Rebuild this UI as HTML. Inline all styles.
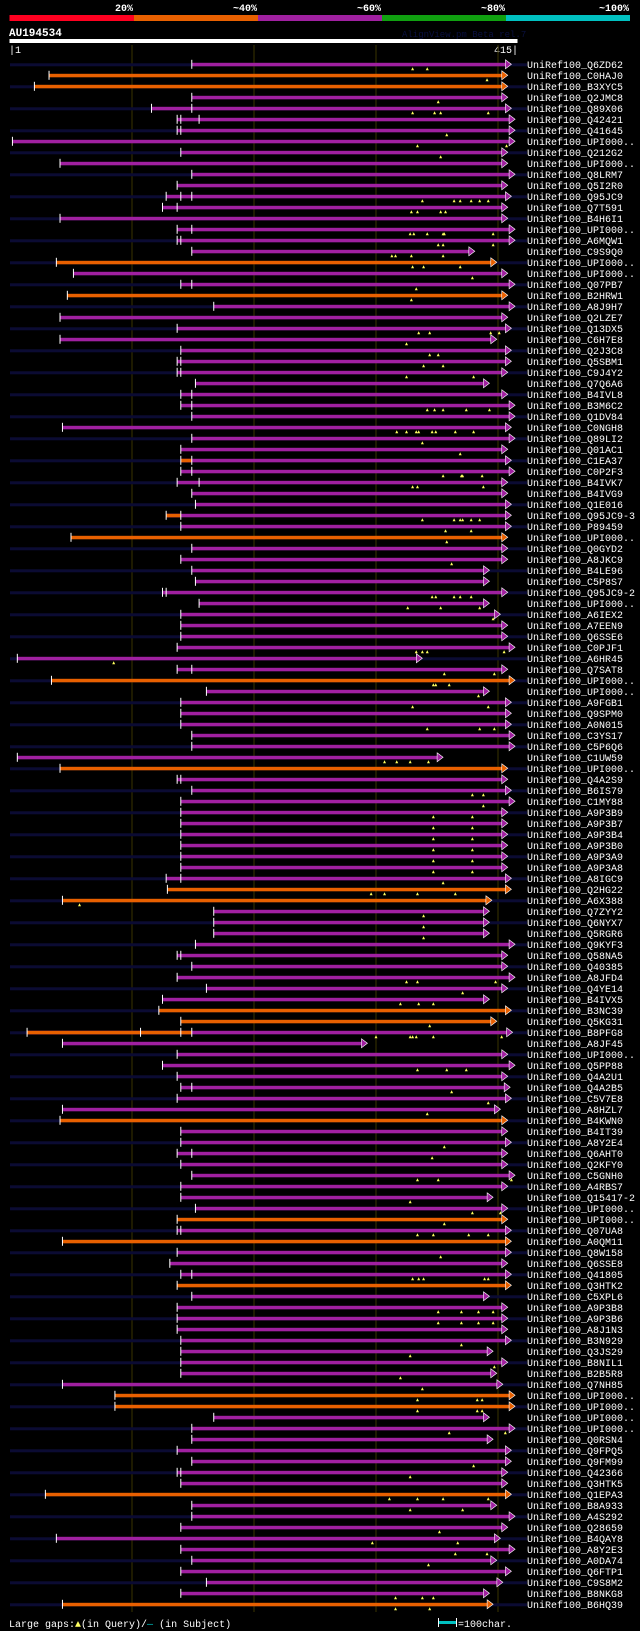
<!DOCTYPE html>
<html><head><meta charset="utf-8"><title>AU194534 alignment</title>
<style>
html,body{margin:0;padding:0;background:#000;}
svg{display:block;}
text{font-family:"Liberation Mono","DejaVu Sans Mono",monospace;}
</style></head>
<body>
<svg id="chart" width="640" height="1631" viewBox="0 0 640 1631" xmlns="http://www.w3.org/2000/svg">
<rect x="0" y="0" width="640" height="1631" fill="#000"/>
<g id="header">
<rect x="9.5" y="15" width="124.5" height="6" fill="#ff0020"/>
<rect x="134" y="15" width="124" height="6" fill="#e86000"/>
<rect x="258" y="15" width="124" height="6" fill="#a020a0"/>
<rect x="382" y="15" width="124" height="6" fill="#10a010"/>
<rect x="506" y="15" width="124" height="6" fill="#00c0c0"/>
<text x="133" y="11" fill="#fff" font-size="10" font-weight="bold" text-anchor="end">20%</text>
<text x="257" y="11" fill="#fff" font-size="10" font-weight="bold" text-anchor="end">~40%</text>
<text x="381" y="11" fill="#fff" font-size="10" font-weight="bold" text-anchor="end">~60%</text>
<text x="505" y="11" fill="#fff" font-size="10" font-weight="bold" text-anchor="end">~80%</text>
<text x="629" y="11" fill="#fff" font-size="10" font-weight="bold" text-anchor="end">~100%</text>
</g>
<text x="9" y="36" fill="#fff" font-size="11" font-weight="bold">AU194534</text>
<text x="402" y="37" fill="#0a1040" font-size="9">AlignView.pm Beta rel.7</text>
<rect x="9.5" y="39" width="508" height="4" fill="#fff"/>
<text x="9" y="53" fill="#fff" font-size="10">|1</text>
<text x="518" y="53" fill="#fff" font-size="10" text-anchor="end">415|</text>
<g id="grid"></g>
<g id="rows"></g>
<g id="footer">
<text x="9" y="1627" fill="#fff" font-size="10">Large gaps:<tspan fill="#ffff60">▲</tspan>(in Query)/<tspan fill="#00c0c0">—</tspan> (in Subject)</text>
<rect x="438" y="1618" width="1" height="9" fill="#fff"/>
<rect x="439" y="1621" width="17" height="3" fill="#00c0c0"/>
<rect x="456" y="1618" width="1" height="9" fill="#fff"/>
<text x="458" y="1627" fill="#fff" font-size="10">=100char.</text>
</g>
</svg>
<script>
const names=["Q6ZD62","C0HAJ0","B3XYC5","Q2JMC8","Q89X06","Q42421","Q41645","UPI000..","Q212G2","UPI000..","Q8LRM7","Q5I2R0","Q95JC9","Q7T591","B4H6I1","UPI000..","A6MQW1","C9S9Q0","UPI000..","UPI000..","Q07PB7","B2HRW1","A8J9H7","Q2LZE7","Q13DX5","C6H7E8","Q2J3C8","Q5SBM1","C9J4Y2","Q7Q6A6","B4IVL8","B3M6C2","Q1DV84","C0NGH8","Q89LI2","Q01AC1","C1EA37","C0P2F3","B4IVK7","B4IVG9","Q1E016","Q95JC9-3","P89459","UPI000..","Q0GYD2","A8JKC9","B4LE96","C5P8S7","Q95JC9-2","UPI000..","A6IEX2","A7EEN9","Q6SSE6","C0PJF1","A6HR45","Q7SAT8","UPI000..","UPI000..","A9FGB1","Q9SPM0","A0N015","C3YS17","C5P6Q6","C1UW59","UPI000..","Q4A2S9","B6IS79","C1MY88","A9P3B9","A9P3B7","A9P3B4","A9P3B0","A9P3A9","A9P3A8","A8IGC9","Q2HG22","A6X388","Q7ZYY2","Q6NYX7","Q5RGR6","Q9KYF3","Q58NA5","Q40385","A8JFD4","Q4YE14","B4IVX5","B3NC39","Q5KG31","B8PFG8","A8JF45","UPI000..","Q5PP88","Q4A2U1","Q4A2B5","C5V7E8","A8HZL7","B4KWN0","B4IT39","A8Y2E4","Q6AHT0","Q2KFY0","C5GNH0","A4RBS7","Q15417-2","UPI000..","UPI000..","Q07UA8","A0QM11","Q8W158","Q6SSE8","Q41805","Q3HTK2","C5XPL6","A9P3B8","A9P3B6","A8J1N3","B3N929","Q3JS29","B8NIL1","B2B5R8","Q7NH85","UPI000..","UPI000..","UPI000..","UPI000..","Q0RSN4","Q9FPQ5","Q9FM99","Q42366","Q3HTK5","Q1EPA3","B8A933","A4S292","Q28659","B4QAY8","A8Y2E3","A0DA74","Q6FTP1","C9S8M2","B8NKG8","B6HQ39"];
const starts=[150,33,21,150,117,138,138,3,141,42,150,138,129,126,42,138,138,150,39,53,141,48,168,42,138,42,141,138,138,153,141,141,150,44,150,141,141,141,138,150,153,129,141,51,150,141,150,153,126,156,141,141,141,138,7,138,35,162,141,141,141,150,150,7,42,138,150,141,141,141,141,141,141,141,129,130,44,168,168,168,153,138,150,138,162,126,123,141,15,44,138,126,138,141,138,44,42,141,141,138,141,150,141,141,153,138,138,44,138,132,141,138,150,138,138,138,141,141,141,141,44,87,87,168,150,150,138,150,138,141,30,150,150,141,39,141,150,141,162,141,44];
const ends=[412,409,409,409,412,415,415,415,409,409,415,409,412,409,409,415,415,382,400,409,415,409,415,409,412,400,412,412,409,394,409,415,415,412,415,409,412,415,409,409,412,412,412,409,409,409,394,394,409,394,403,409,409,415,339,409,415,394,412,412,412,415,415,356,409,409,412,415,409,409,409,409,409,409,412,412,396,394,394,394,415,409,409,415,409,394,412,400,413,294,409,415,409,411,412,403,409,409,412,409,409,415,409,397,409,409,412,412,412,409,412,412,394,409,409,409,412,397,409,400,405,415,415,394,415,397,412,412,409,409,412,400,415,409,403,415,400,412,405,394,397];
const orangeRows=[2,3,19,22,44,57,65,76,77,87,88,97,106,108,112,122,123,131,141];
const orangeTo={37:150,42:141,89:150};
const ticks2={5:[150],6:[141,156],7:[141],13:[141,150],14:[138],16:[150],17:[141],21:[150],28:[141],29:[141],31:[150],32:[150],37:[150],38:[150],39:[156],42:[141],49:[129],56:[150],66:[141],75:[141],82:[141],89:[108,141,150],94:[150],100:[150],107:[141],111:[150],129:[141]};
const gaps={1:[331,343],2:[392],4:[352],5:[331,349,354,393],7:[359],8:[335,408],9:[354],13:[339,365,370,379,386,393],14:[330,335,354,358],16:[329,332,343,356,357,397],17:[352,356,397],18:[314,317,330,356],19:[331,340,370],20:[380],21:[334],22:[330],25:[336,345,395,402],26:[326],27:[345,352],28:[340,356],29:[326,381],32:[343,349,356,375,394],34:[318,326,334,336,347,350,366,381],35:[339],36:[370],38:[356,371,372,388],39:[331,335,389],42:[339,365,370,372,379,386],43:[358,379],44:[359],46:[363],49:[347,350,365,370,379],50:[327,354,386],51:[397],54:[334,339,343,406],55:[86],56:[357,398],57:[348,350,361],58:[385],59:[331,393],61:[343,386,398],64:[308,318,329,344],67:[380,389],68:[389],69:[348,380],70:[348,380],71:[348,380],72:[348,380],73:[348,380],74:[348,380],75:[356],76:[297,308,335,366],77:[58],78:[340],79:[340],80:[340],84:[326,335,399],85:[372],86:[321,336,348],88:[345],89:[301,329,331,334,348,404],92:[335,359,375],94:[363],95:[393],96:[343],99:[357],100:[347],102:[335,352,412],104:[329],105:[380,403],106:[357],107:[335,348,377,393],109:[354],111:[331,336,340,390,393],114:[352,371,385,397],115:[352,371,385,397],117:[371],118:[329],119:[398],120:[321],121:[339],122:[335,384,388],123:[335,384,388],125:[361,407],128:[381],129:[329],131:[312,335,356,393],132:[329,372],134:[353],135:[298,368],136:[366,392],137:[344],140:[317,339,348],141:[317,345]};
const gridRes=[101,201,301,401];

const NS="http://www.w3.org/2000/svg";
function xs(r){return 10+(r-1)*1.22;}
function ys(i){return 64.3+i*11;}
function mk(tag,attrs,parent){const e=document.createElementNS(NS,tag);for(const k in attrs)e.setAttribute(k,attrs[k]);parent.appendChild(e);return e;}
const grid=document.getElementById('grid');
gridRes.forEach(function(r){
  const l=mk('rect',{x:xs(r)-0.5,y:45,width:1,height:1567,fill:'#3a3300'},grid);
  
  
});
const rows=document.getElementById('rows');
const PUR='#a020a0',ORA='#e86000';
names.forEach(function(nm,i){
  const n=i+1,y=ys(i);
  const g=mk('g',{},rows);
  
  
  if(i%2===0){
    const nv=mk('rect',{x:10,y:y-1,width:517,height:3,fill:'#0b0b33'},g);
    
    
  }
  const c=orangeRows.indexOf(n)>=0?ORA:PUR;
  const s=xs(starts[i]),e=xs(ends[i]);
  const bar=mk('rect',{x:s,y:y-1.5,width:Math.max(0,e-5-s),height:3.5,fill:c},g);
  
  
  if(orangeTo[n]){
    const ob=mk('rect',{x:s,y:y-1.5,width:xs(orangeTo[n])-s,height:3.5,fill:ORA},g);
    
    
  }
  const ar=mk('polygon',{points:(e-6)+','+(y-4.5)+' '+e+','+y+' '+(e-6)+','+(y+4.5),fill:c,stroke:'#fff','stroke-width':0.6},g);
  
  
  const tk=mk('rect',{x:s-0.5,y:y-4.5,width:1,height:9,fill:'#fff'},g);
  
  
  (ticks2[n]||[]).forEach(function(r){
    const t=mk('rect',{x:xs(r)-0.5,y:y-4.5,width:1,height:9,fill:'#fff'},g);
    
    
  });
  (gaps[n]||[]).forEach(function(r){
    const gx=xs(r);
    const m=mk('polygon',{points:(gx-1.5)+','+(y+6)+' '+gx+','+(y+3)+' '+(gx+1.5)+','+(y+6),fill:'#ffff60'},g);
    
    
  });
  const tx=mk('text',{x:527,y:y+3.5,fill:'#fff','font-size':10},g);
  tx.textContent='UniRef100_'+nm;
  
  
});
</script>
</body></html>
